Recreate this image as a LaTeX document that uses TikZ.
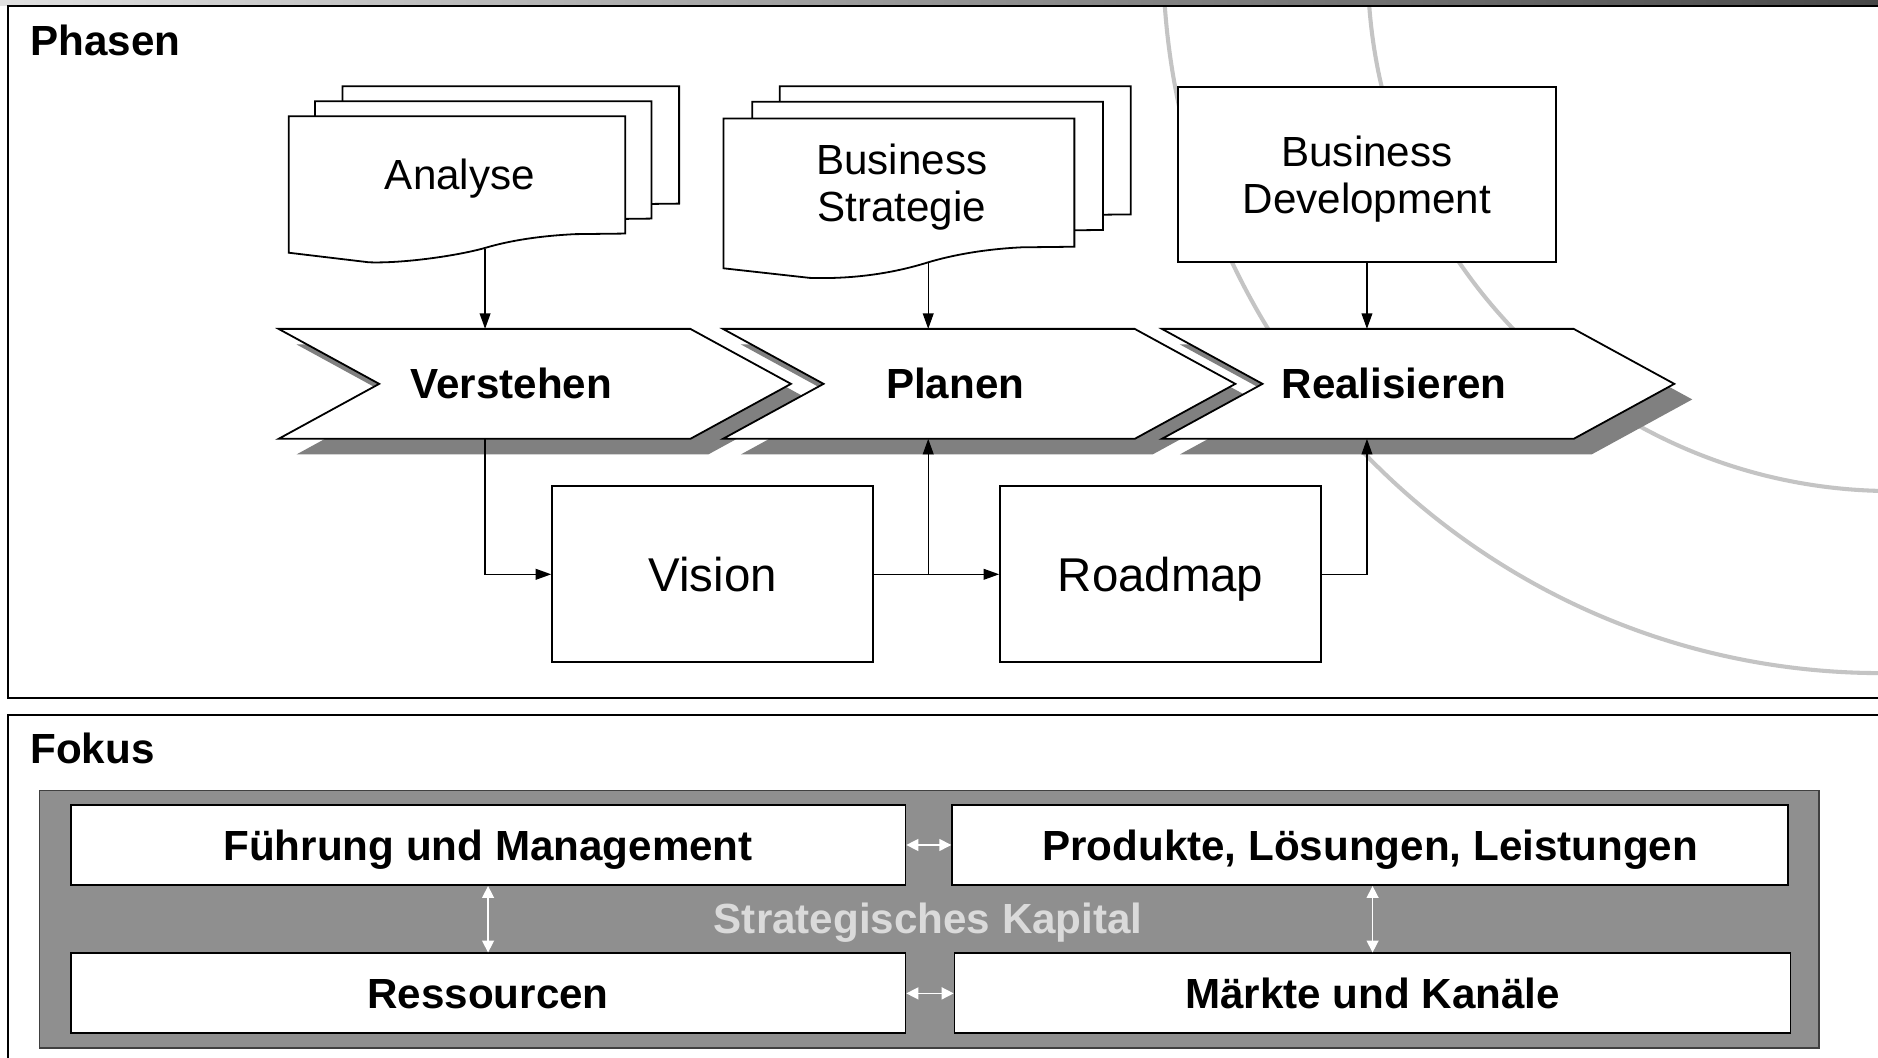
\documentclass[tikz,border=0pt]{standalone}
\usepackage{fontspec}
\setmainfont{Liberation Sans}
\usetikzlibrary{arrows.meta,calc}
\definecolor{arcgray}{RGB}{196,196,196}
\definecolor{shadegray}{RGB}{128,128,128}
\definecolor{panelgray}{RGB}{143,143,143}
\definecolor{kapitalgray}{RGB}{218,218,218}
\tikzset{
  framebox/.style={draw=black,line width=0.8pt},
  framelabel/.style={font=\bfseries\fontsize{17.6}{21}\selectfont,anchor=base west,inner sep=0pt},
  sheet/.style={draw=black,fill=white,line width=0.75pt,line join=miter},
  doclabel/.style={font=\fontsize{17.6}{19.5}\selectfont,align=center,inner sep=0pt},
  chevbox/.style={minimum width=213.5pt,minimum height=45.5pt,inner sep=0pt},
  chevshape/.style={draw=black,fill=white,line width=0.75pt,line join=miter},
  chevshade/.style={fill=shadegray},
  chevlabel/.style={font=\bfseries\fontsize{17.6}{21}\selectfont,inner sep=0pt,text height=12.6pt,text depth=0pt},
  plainbox/.style={draw=black,fill=white,line width=0.75pt,inner sep=0pt},
  bigtext/.style={font=\fontsize{19.8}{24}\selectfont,text height=14.2pt,text depth=0pt},
  fokbox/.style={draw=black,fill=white,line width=0.75pt,inner sep=0pt,font=\bfseries\fontsize{17.6}{21}\selectfont,text height=12.6pt,text depth=0pt},
  panelbox/.style={draw=black!75,fill=panelgray,line width=0.75pt,inner sep=0pt},
  connarrow/.style={draw=black,line width=0.6pt,-{Triangle[length=6.5pt,width=4.5pt]}},
  connline/.style={draw=black,line width=0.6pt},
  whitearrow/.style={draw=white,line width=0.6pt,{Triangle[length=5pt,width=5pt]}-{Triangle[length=5pt,width=5pt]}},
  arcline/.style={draw=arcgray,line width=1.7pt},
  analysesheet/.pic={
    \path[sheet] (241,97) -- (522,97) -- (522,195) -- (480,195.5)
      .. controls (450,197) and (425,201) .. (405,207)
      .. controls (380,214) and (335,220) .. (308,219) -- (241,211) -- cycle;
  },
  strategiesheet/.pic={
    \path[sheet] (604,99) -- (897,99) -- (897,206) -- (853,206.5)
      .. controls (822,208) and (795,213) .. (775,219)
      .. controls (740,230) and (705,233) .. (676,232) -- (604,224) -- cycle;
  }
}
\begin{document}
\begin{tikzpicture}[x=0.5pt,y=-0.5pt]
\useasboundingbox (0,0) rectangle (1568,883);
\clip (0,0) rectangle (1568,883);
\fill[white] (0,0) rectangle (1568,883);

% background arcs
\draw[arcline] (1571,-38) circle[radius=300pt];
\draw[arcline] (1580,-28) circle[radius=219pt];

% top band
\shade[left color=black!12,right color=black!72] (0,0) rectangle (1568,5);

% frames
\draw[framebox] (7,5) rectangle (1600,583);
\draw[framebox] (7,597) rectangle (1600,910);
\node[framelabel] (phasen) at (25,46) {Phasen};
\node[framelabel] (fokus) at (25,637.4) {Fokus};

% document stacks
\pic at (45,-25) {analysesheet};
\pic at (22,-12.5) {analysesheet};
\pic at (0,0) {analysesheet};
\pic at (47,-27) {strategiesheet};
\pic at (24,-14) {strategiesheet};
\pic at (0,0) {strategiesheet};
\node[doclabel,text height=12.6pt,text depth=0pt] (analyse) at (384,145.8) {Analyse};
\node[doclabel] (strategie) at (753,156) {Business\\Strategie};
\coordinate (analyse-out) at (405,207.5);
\coordinate (strategie-out) at (775,218.5);

\node[plainbox,doclabel,text depth=0pt,minimum width=158pt,minimum height=73.3pt] (development) at (1141.3,145.7) {Business\\Development};

% chevrons
\node[chevbox] (verstehen) at (446.5,320.5) {};
\node[chevbox] (planen) at (817.5,320.5) {};
\node[chevbox] (realisieren) at (1184,320.5) {};
\foreach \n in {verstehen,planen,realisieren}{
  \fill[chevshade] ([shift={(15,13)}]\n.north west) -- ([shift={(-69,13)}]\n.north east)
    -- ([shift={(15,13)}]\n.east) -- ([shift={(-69,13)}]\n.south east)
    -- ([shift={(15,13)}]\n.south west) -- ([shift={(99,13)}]\n.west) -- cycle;
}
\foreach \n in {verstehen,planen,realisieren}{
  \draw[chevshape] (\n.north west) -- ([shift={(-84,0)}]\n.north east)
    -- (\n.east) -- ([shift={(-84,0)}]\n.south east)
    -- (\n.south west) -- ([shift={(84,0)}]\n.west) -- cycle;
}
\node[chevlabel] (verstehen-label) at (427,320.5) {Verstehen};
\node[chevlabel] (planen-label) at (797.5,320.5) {Planen};
\node[chevlabel] (realisieren-label) at (1164,320.5) {Realisieren};

% vision / roadmap
\node[plainbox,bigtext,minimum width=134pt,minimum height=73.5pt] (vision) at (595,479.5) {Vision};
\node[plainbox,bigtext,minimum width=134pt,minimum height=73.5pt] (roadmap) at (969,479.5) {Roadmap};

% connectors
\draw[connarrow] (analyse-out) -- (analyse-out |- verstehen.north);
\draw[connarrow] (strategie-out) -- (strategie-out |- planen.north);
\draw[connarrow] (development.south) -- (development.south |- realisieren.north);
\draw[connarrow] (analyse-out |- verstehen.south) |- (vision.west);
\draw[connarrow] (vision.east) -- (roadmap.west);
\draw[connarrow] (vision.east -| strategie-out) -- (strategie-out |- planen.south);
\draw[connarrow] (roadmap.east) -| (development.south |- realisieren.south);

% Fokus
\node[panelbox,minimum width=743pt,minimum height=107.5pt] (panel) at (776,767.5) {};
\node[font=\bfseries\fontsize{17.6}{21}\selectfont,text=kapitalgray,inner sep=0pt,text height=12.6pt,text depth=0pt] (kapital) at (775,767) {Strategisches Kapital};
\node[fokbox,minimum width=348.5pt,minimum height=33.5pt] (fuehrung) at (407.5,705.5) {Führung und Management};
\node[fokbox,minimum width=349pt,minimum height=33.5pt] (produkte) at (1144,705.5) {Produkte, Lösungen, Leistungen};
\node[fokbox,minimum width=348.5pt,minimum height=33.4pt] (ressourcen) at (407.5,829.4) {Ressourcen};
\node[fokbox,minimum width=349pt,minimum height=33.4pt] (maerkte) at (1146,829.4) {Märkte und Kanäle};
\draw[whitearrow] (fuehrung.east) -- (produkte.west);
\draw[whitearrow] (ressourcen.east) -- (maerkte.west);
\draw[whitearrow] (fuehrung.south) -- (ressourcen.north);
\draw[whitearrow] (maerkte.north |- produkte.south) -- (maerkte.north);
\end{tikzpicture}
\end{document}
